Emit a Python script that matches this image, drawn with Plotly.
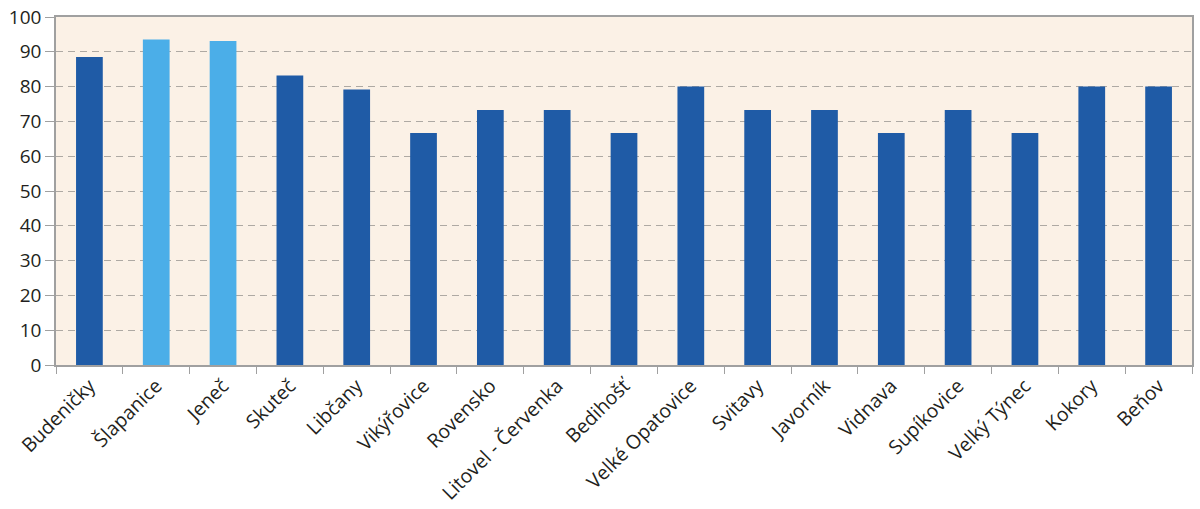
import plotly.graph_objects as go

categories = ["Budeničky", "Šlapanice", "Jeneč", "Skuteč", "Libčany", "Vikýřovice",
              "Rovensko", "Litovel - Červenka", "Bedihošť", "Velké Opatovice", "Svitavy",
              "Javorník", "Vidnava", "Supíkovice", "Velký Týnec", "Kokory", "Beňov"]
values = [88.5, 93.5, 93.1, 83.2, 79.2, 66.7, 73.3, 73.3, 66.7, 80.0, 73.3,
          73.3, 66.7, 73.3, 66.7, 80.0, 80.0]
highlight = [False, True, True, False, False, False, False, False, False, False,
             False, False, False, False, False, False, False]

dark = "#1F5BA6"
light = "#4BAEE8"
colors = [light if h else dark for h in highlight]

fig = go.Figure(go.Bar(x=categories, y=values, marker_color=colors,
                       marker_line_width=0, width=0.4))

font = "Open Sans, Noto Sans, sans-serif"
fig.update_layout(
    width=1200, height=509,
    margin=dict(l=56, r=8, t=17, b=144),
    paper_bgcolor="white",
    plot_bgcolor="#FBF1E6",
    showlegend=False,
    font=dict(family=font, color="#231F20"),
)
fig.update_xaxes(
    automargin=False,
    tickangle=-45, tickfont=dict(size=19.5),
    showline=True, linecolor="#A0A0A0", linewidth=1.5, mirror=True,
    ticks="outside", tickson="boundaries", ticklen=7, tickcolor="#A0A0A0",
    showgrid=False,
)
fig.update_yaxes(
    automargin=False,
    range=[0, 100], dtick=10, tickfont=dict(size=19),
    showline=True, linecolor="#A0A0A0", linewidth=1.5, mirror=True,
    ticks="outside", ticklen=9, tickcolor="#A0A0A0",
    showgrid=True, gridcolor="#AEA9A3", griddash="7px,5px", gridwidth=1.2,
    zeroline=False,
)

fig.write_html("out.html", config={"displayModeBar": False},
               post_script="document.body.style.margin='0';")
